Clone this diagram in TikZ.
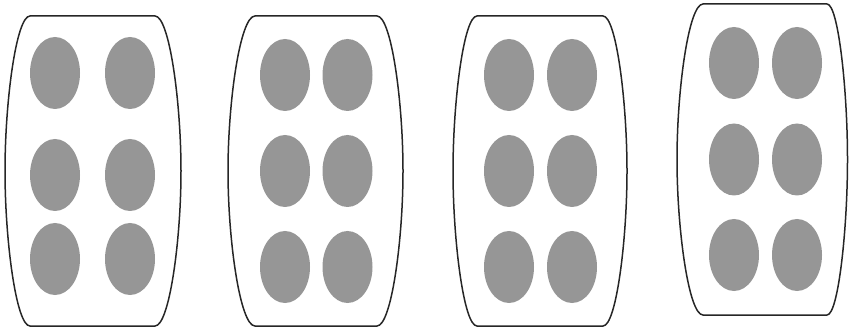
\documentclass[tikz,border=0pt]{standalone}
\usepackage{tikz}
\usetikzlibrary{shapes.geometric}
\definecolor{padgray}{RGB}{150,150,150}

\begin{document}
\begin{tikzpicture}[
    x=1pt, y=-1pt,
    tray/.style={draw=black!85, line width=1.5pt},
    pad/.style={ellipse, fill=padgray, inner sep=0pt, minimum width=50pt, minimum height=72pt}
]
\useasboundingbox (0,0) rectangle (849,331);

% trays: top corners, side bulges, top/bottom, then pad columns and rows
\foreach \tl/\tr/\lx/\rx/\ty/\by/\ca/\cb/\ra/\rb/\rc [count=\i] in {
    30/155/5/181/16/326/55/130/73/175/259,
    255/377/228/403/16/326/285/347.5/75/171/267,
    477/603/453/627/16/326/509/572/75/171/267,
    703/827/677/847.5/4/315/734/797/63/159.5/255} {
  \pgfmathsetmacro{\my}{(\ty+\by)/2}
  \draw[tray] (\tl,\ty) -- (\tr,\ty)
    .. controls ({\tr+0.55*(\rx-\tr)},\ty) and (\rx,{\ty+0.55*(\my-\ty)}) .. (\rx,\my)
    .. controls (\rx,{\by-0.55*(\by-\my)}) and ({\tr+0.55*(\rx-\tr)},\by) .. (\tr,\by)
    -- (\tl,\by)
    .. controls ({\tl-0.55*(\tl-\lx)},\by) and (\lx,{\by-0.55*(\by-\my)}) .. (\lx,\my)
    .. controls (\lx,{\ty+0.55*(\my-\ty)}) and ({\tl-0.55*(\tl-\lx)},\ty) .. cycle;
  % pads
  \foreach \c [count=\j] in {\ca,\cb}
    \foreach \r [count=\k] in {\ra,\rb,\rc}
      \node[pad] (pad\i-\k-\j) at (\c,\r) {};
}
\end{tikzpicture}
\end{document}
